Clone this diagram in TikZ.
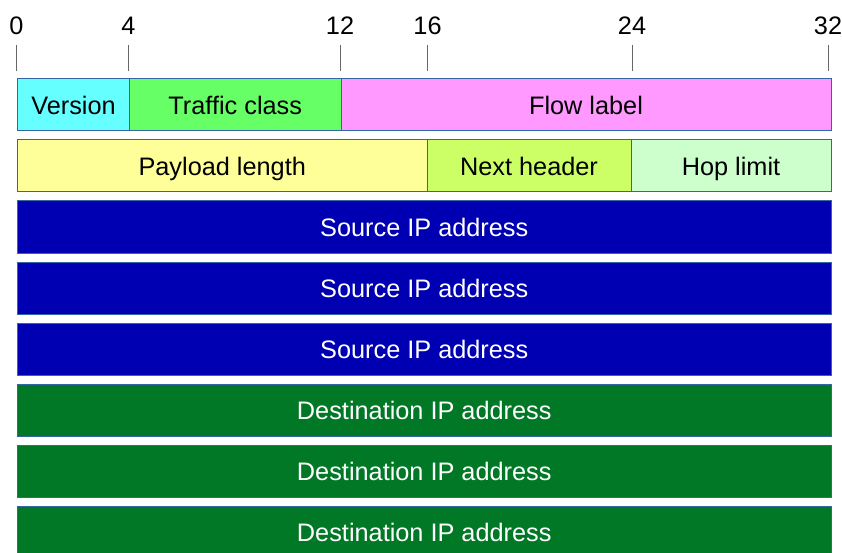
\documentclass[tikz,border=0pt]{standalone}
\usepackage{fontspec}
\setmainfont{Liberation Sans}
\definecolor{border}{HTML}{3465A4}
\definecolor{cver}{HTML}{66FFFF}
\definecolor{ctc}{HTML}{66FF66}
\definecolor{cflow}{HTML}{FF99FF}
\definecolor{cpay}{HTML}{FFFF99}
\definecolor{cnext}{HTML}{CCFF66}
\definecolor{chop}{HTML}{CCFFCC}
\definecolor{csrc}{HTML}{0000B2}
\definecolor{cdst}{HTML}{007826}
\definecolor{tickc}{HTML}{666666}
\tikzset{
  fieldbox/.style={draw=border, line width=1pt, inner sep=0pt, minimum height=52pt,
    text height=18.1pt, text depth=0pt, font=\fontsize{25.3}{30}\selectfont},
  fullrow/.style={fieldbox, minimum width=813.5pt, text=white},
  ticklabel/.style={inner sep=0pt, text height=18.1pt, text depth=0pt, font=\fontsize{25.3}{30}\selectfont},
  tickline/.style={draw=tickc, line width=1pt}
}
\begin{document}
\begin{tikzpicture}[x=1pt,y=1pt]
\useasboundingbox (0,0) rectangle (842,-553);
\clip (0,0) rectangle (842,-553);
% bit ruler
\foreach \n/\x in {0/16.5,4/128.5,12/340,16/427.5,24/632,32/828}{
  \node[ticklabel] (l\n) at (\x,-25) {\n};
  \coordinate (a\n) at (\x,-45);
  \coordinate (b\n) at (\x,-71);
  \draw[tickline] (a\n) -- (b\n);
}
% row 1
\node[fieldbox, fill=cver, minimum width=112pt] (ver) at (73.5,-105) {Version};
\node[fieldbox, fill=ctc, minimum width=211.5pt] (tc) at (235.25,-105) {Traffic class};
\node[fieldbox, fill=cflow, minimum width=490pt] (flow) at (586,-105) {Flow label};
% row 2
\node[fieldbox, fill=cpay, minimum width=409.5pt] (pay) at (222.25,-166) {Payload length};
\node[fieldbox, fill=cnext, minimum width=204pt] (next) at (529,-166) {Next header};
\node[fieldbox, fill=chop, minimum width=200pt] (hop) at (731,-166) {Hop limit};
% addresses
\node[fullrow, fill=csrc] (s1) at (424.25,-227) {Source IP address};
\node[fullrow, fill=csrc] (s2) at (424.25,-288) {Source IP address};
\node[fullrow, fill=csrc] (s3) at (424.25,-349) {Source IP address};
\node[fullrow, fill=cdst] (d1) at (424.25,-410) {Destination IP address};
\node[fullrow, fill=cdst] (d2) at (424.25,-471) {Destination IP address};
\node[fullrow, fill=cdst] (d3) at (424.25,-532) {Destination IP address};
\end{tikzpicture}
\end{document}
